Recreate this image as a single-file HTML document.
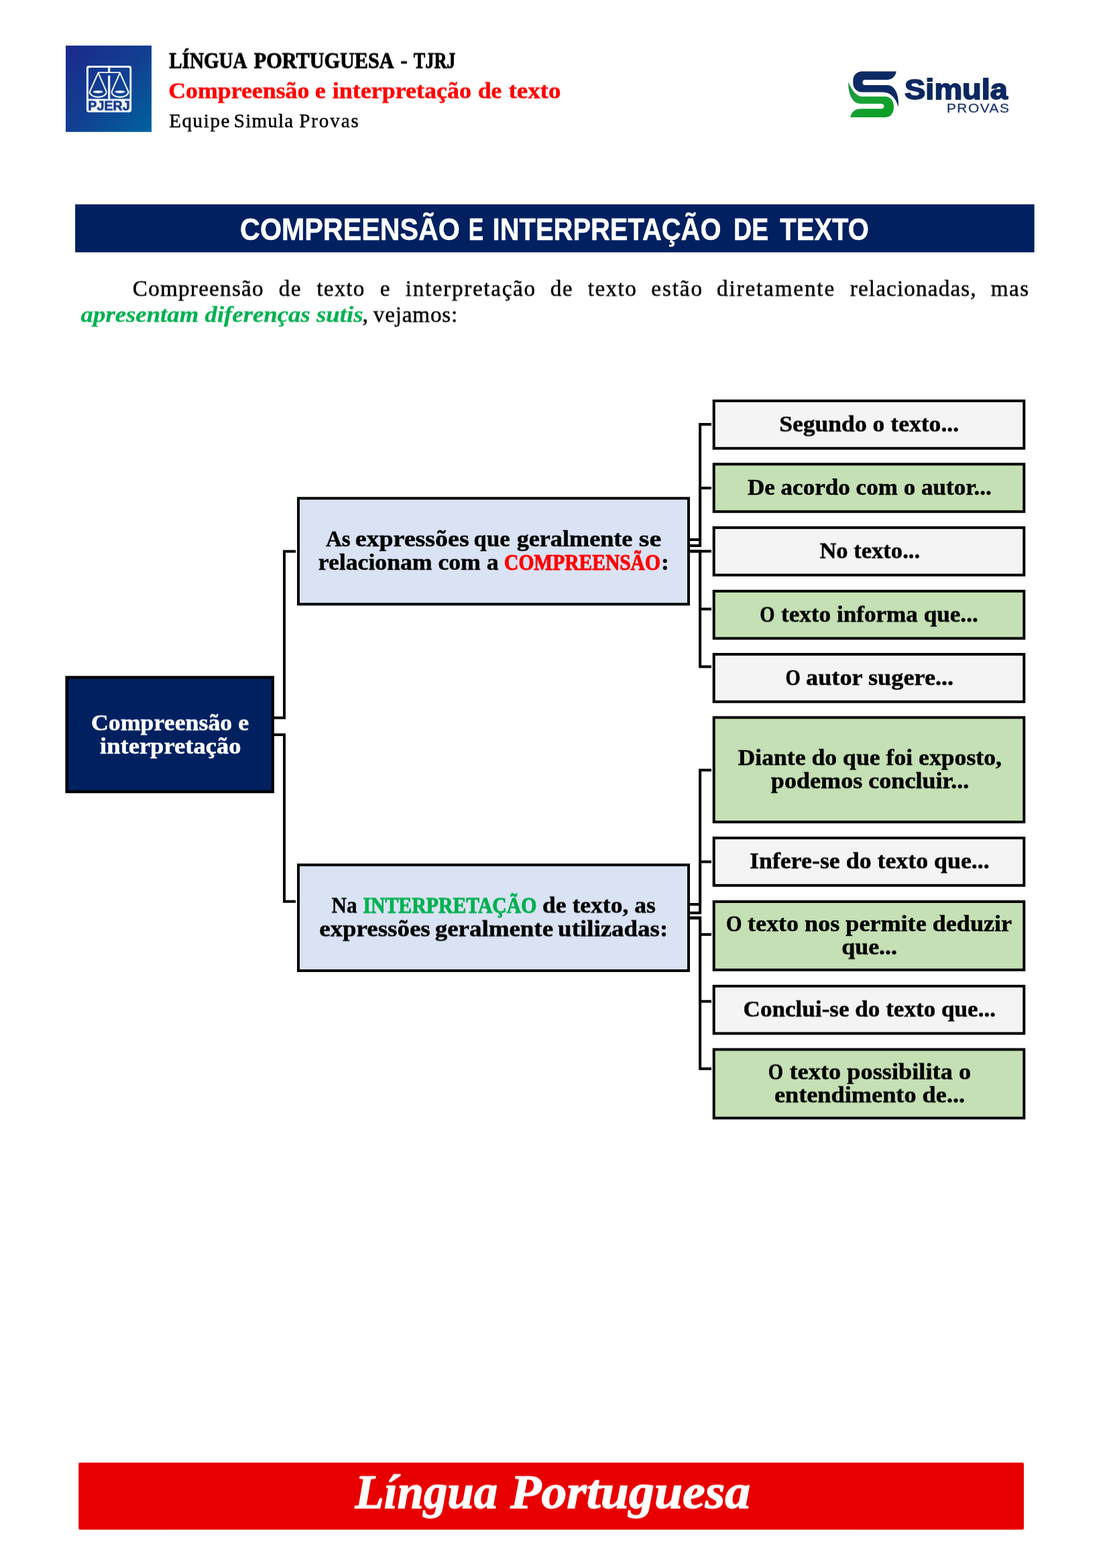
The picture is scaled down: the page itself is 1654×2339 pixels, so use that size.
<!DOCTYPE html>
<html lang="pt-BR">
<head>
<meta charset="utf-8">
<title>Compreensão e interpretação de texto</title>
<style>
html,body{margin:0;padding:0;background:#fff;}
body{width:1654px;height:2339px;overflow:hidden;position:relative;}
svg{display:block;position:absolute;left:0;top:0;will-change:transform;}
svg.t{overflow:visible;}
text{white-space:pre;}
</style>
</head>
<body>
<svg width="1654" height="2339" viewBox="0 0 1654 2339">
<defs><linearGradient id="pj" x1="0" y1="0" x2="1" y2="1"><stop offset="0" stop-color="#1b2a8c"/><stop offset="0.5" stop-color="#123f91"/><stop offset="1" stop-color="#00629f"/></linearGradient><linearGradient id="sg" x1="0" y1="0" x2="0.6" y2="1"><stop offset="0" stop-color="#1a9140"/><stop offset="0.5" stop-color="#18a238"/><stop offset="1" stop-color="#0c9f24"/></linearGradient></defs>
<rect x="98" y="68" width="128" height="128.8" fill="url(#pj)"/>
<path fill="#f2f6fc" fill-rule="evenodd" d="M132.5,98 H192.6 Q196.2,98 196.2,101.6 V163.8 Q196.2,167.4 192.6,167.4 H132.5 Q128.9,167.4 128.9,163.8 V101.6 Q128.9,98 132.5,98 Z M133.9,100.9 Q131.9,100.9 131.9,102.9 V147.5 H193.4 V102.9 Q193.4,100.9 191.4,100.9 Z"/>
<rect x="161.1" y="100" width="3.2" height="9" fill="#f2f6fc"/>
<g fill="none" stroke="#f2f6fc" stroke-width="2.1" stroke-linejoin="round"><path d="M146.5,108.1 H178.9" stroke-width="1.8"/><path d="M146.5,108.6 L133.7,137.1 A12.6,7.8 0 0 0 158.9,137.1 Z"/><path d="M178.9,108.6 L166.4,137.1 A12.6,7.8 0 0 0 191.6,137.1 Z"/></g>
<rect x="159.75" y="109.2" width="5.9" height="38.3" fill="#15399a"/>
<rect x="161.1" y="112.6" width="3.2" height="35.5" fill="#f2f6fc"/>
<ellipse cx="146.1" cy="136.9" rx="7.5" ry="2.0" fill="#f2f6fc"/>
<ellipse cx="178.9" cy="136.9" rx="7.5" ry="2.0" fill="#f2f6fc"/>
<path fill="#0c2a63" d="M 1336.8,106.6 L 1285.7,106.6 C 1278.3,106.6 1272.3,112.4 1272.3,119.9 L 1272.3,124.2 C 1272.3,131.9 1278.3,137.5 1285.7,137.5 L 1316.5,137.5 C 1328.1,137.5 1336.5,146.5 1339.8,159.8 C 1341.1,144.9 1336.5,127.1 1323.2,127.1 L 1290.7,127.1 C 1287.9,127.1 1286.4,125.2 1286.4,122.9 C 1286.4,120.8 1287.9,119.1 1290.7,119.1 L 1322.7,119.1 C 1330.6,119.1 1335.6,114.1 1336.8,106.6 Z"/>
<path fill="url(#sg)" d="M 1265.5,122.1 C 1266.5,125.2 1267.3,127.2 1268.6,129.5 C 1271.3,134.6 1277.4,143.9 1285.7,143.9 L 1319.8,143.9 C 1328.1,143.9 1333.0,149.9 1333.0,159.5 C 1333.0,169.0 1328.1,175.1 1319.8,175.1 L 1268.3,175.1 C 1269.1,168.1 1274.9,162.2 1283.3,162.2 L 1314.0,162.2 C 1317.0,162.2 1318.5,160.5 1318.5,158.4 C 1318.5,156.3 1317.0,154.7 1314.0,154.7 L 1283.3,154.7 C 1271.6,154.7 1264.1,139.9 1265.5,122.1 Z"/>
<rect x="112.1" y="304.8" width="1430.6" height="71.6" fill="#002060"/>
<rect x="99.60" y="1010.50" width="307.20" height="170.50" fill="#002060" stroke="#000" stroke-width="4.4"/>
<rect x="445.00" y="743.30" width="582.00" height="158.00" fill="#dae3f3" stroke="#000" stroke-width="4.0"/>
<rect x="445.00" y="1290.20" width="582.00" height="157.80" fill="#dae3f3" stroke="#000" stroke-width="4.0"/>
<rect x="1064.70" y="598.00" width="462.60" height="70.80" fill="#f4f4f4" stroke="#000" stroke-width="4.0"/>
<rect x="1064.70" y="692.40" width="462.60" height="70.80" fill="#c5e0b4" stroke="#000" stroke-width="4.0"/>
<rect x="1064.70" y="787.10" width="462.60" height="70.70" fill="#f4f4f4" stroke="#000" stroke-width="4.0"/>
<rect x="1064.70" y="881.80" width="462.60" height="70.50" fill="#c5e0b4" stroke="#000" stroke-width="4.0"/>
<rect x="1064.70" y="976.00" width="462.60" height="70.80" fill="#f4f4f4" stroke="#000" stroke-width="4.0"/>
<rect x="1064.70" y="1070.30" width="462.60" height="155.90" fill="#c5e0b4" stroke="#000" stroke-width="4.0"/>
<rect x="1064.70" y="1250.00" width="462.60" height="70.80" fill="#f4f4f4" stroke="#000" stroke-width="4.0"/>
<rect x="1064.70" y="1345.00" width="462.60" height="101.80" fill="#c5e0b4" stroke="#000" stroke-width="4.0"/>
<rect x="1064.70" y="1471.00" width="462.60" height="70.60" fill="#f4f4f4" stroke="#000" stroke-width="4.0"/>
<rect x="1064.70" y="1565.50" width="462.60" height="102.30" fill="#c5e0b4" stroke="#000" stroke-width="4.0"/>
<g fill="none" stroke="#000" stroke-width="4" stroke-linejoin="miter"><path d="M409,1070.8 H424 V822.5 H441"/><path d="M409,1096 H424 V1344.8 H441"/><path d="M1029,814 H1044.1 V633 H1061"/><path d="M1029,805.1 H1044.1 V728 H1061"/><path d="M1029,822.3 H1061"/><path d="M1029,822.3 H1044.1 V908.5 H1061"/><path d="M1029,822.3 H1044.1 V994.5 H1061"/><path d="M1029,1361.8 H1044.1 V1148.7 H1061"/><path d="M1029,1349.1 H1044.1 V1285.6 H1061"/><path d="M1029,1369.3 H1044.1 V1393.9 H1061"/><path d="M1029,1369.3 H1044.1 V1493.7 H1061"/><path d="M1029,1369.3 H1044.1 V1594.2 H1061"/></g>
<rect x="117.2" y="2181.7" width="1409.8" height="100" rx="2" fill="#e80000"/>
</svg>
<svg class="t" width="149" height="130" style="left:240px;top:11px;transform:translateY(0.50px) rotate(0.0001deg)"><text transform="translate(12.20,90.00) scale(0.8581,1)" font-family='"Liberation Serif", serif' font-size="33.90" font-weight="700" fill="#000" stroke="#000" stroke-width="0.9" stroke-linejoin="round">LÍNGUA</text></svg>
<svg class="t" width="242" height="130" style="left:366px;top:11px;transform:translateY(0.50px) rotate(0.0001deg)"><text transform="translate(12.80,90.00) scale(0.8920,1)" font-family='"Liberation Serif", serif' font-size="33.90" font-weight="700" fill="#000" stroke="#000" stroke-width="0.9" stroke-linejoin="round">PORTUGUESA</text></svg>
<svg class="t" width="41" height="130" style="left:585px;top:11px;transform:translateY(0.50px) rotate(0.0001deg)"><text transform="translate(12.57,90.00) scale(0.9000,1)" font-family='"Liberation Serif", serif' font-size="33.90" font-weight="700" fill="#000" stroke="#000" stroke-width="0.9" stroke-linejoin="round">-</text></svg>
<svg class="t" width="95" height="130" style="left:604px;top:11px;transform:translateY(0.50px) rotate(0.0001deg)"><text transform="translate(12.80,90.00) scale(0.7743,1)" font-family='"Liberation Serif", serif' font-size="33.90" font-weight="700" fill="#000" stroke="#000" stroke-width="0.9" stroke-linejoin="round">TJRJ</text></svg>
<svg class="t" width="241" height="130" style="left:239px;top:56px;transform:translateY(0.50px) rotate(0.0001deg)"><text transform="translate(12.20,90.00) scale(1.0569,1)" font-family='"Liberation Serif", serif' font-size="33.90" font-weight="700" fill="#ff0000" stroke="#ff0000" stroke-width="0.5" stroke-linejoin="round">Compreensão</text></svg>
<svg class="t" width="47" height="130" style="left:457px;top:56px;transform:translateY(0.50px) rotate(0.0001deg)"><text transform="translate(12.82,90.00) scale(1.0600,1)" font-family='"Liberation Serif", serif' font-size="33.90" font-weight="700" fill="#ff0000" stroke="#ff0000" stroke-width="0.5" stroke-linejoin="round">e</text></svg>
<svg class="t" width="239" height="130" style="left:483px;top:56px;transform:translateY(0.50px) rotate(0.0001deg)"><text transform="translate(12.70,90.00) scale(1.0618,1)" font-family='"Liberation Serif", serif' font-size="33.90" font-weight="700" fill="#ff0000" stroke="#ff0000" stroke-width="0.5" stroke-linejoin="round">interpretação</text></svg>
<svg class="t" width="66" height="130" style="left:701px;top:56px;transform:translateY(0.50px) rotate(0.0001deg)"><text transform="translate(12.00,90.00) scale(1.0410,1)" font-family='"Liberation Serif", serif' font-size="33.90" font-weight="700" fill="#ff0000" stroke="#ff0000" stroke-width="0.5" stroke-linejoin="round">de</text></svg>
<svg class="t" width="109" height="130" style="left:746px;top:56px;transform:translateY(0.50px) rotate(0.0001deg)"><text transform="translate(12.40,90.00) scale(1.0910,1)" font-family='"Liberation Serif", serif' font-size="33.90" font-weight="700" fill="#ff0000" stroke="#ff0000" stroke-width="0.5" stroke-linejoin="round">texto</text></svg>
<svg class="t" width="122" height="130" style="left:240px;top:99px;transform:translateY(0.90px) rotate(0.0001deg)"><text transform="translate(12.18,90.00) scale(0.9800,1)" font-family='"Liberation Serif", serif' font-size="29.70" font-weight="400" fill="#000" stroke="#000" stroke-width="0.5" stroke-linejoin="round" letter-spacing="1.596">Equipe</text></svg>
<svg class="t" width="119" height="130" style="left:336px;top:99px;transform:translateY(0.90px) rotate(0.0001deg)"><text transform="translate(12.77,90.00) scale(0.9800,1)" font-family='"Liberation Serif", serif' font-size="29.70" font-weight="400" fill="#000" stroke="#000" stroke-width="0.5" stroke-linejoin="round" letter-spacing="1.200">Simula</text></svg>
<svg class="t" width="119" height="130" style="left:434px;top:99px;transform:translateY(0.90px) rotate(0.0001deg)"><text transform="translate(12.28,90.00) scale(0.9800,1)" font-family='"Liberation Serif", serif' font-size="29.70" font-weight="400" fill="#000" stroke="#000" stroke-width="0.5" stroke-linejoin="round" letter-spacing="1.898">Provas</text></svg>
<svg class="t" width="358" height="130" style="left:346px;top:268px;transform:translateY(0.00px) rotate(0.0001deg)"><text transform="translate(12.10,90.00) scale(0.9070,1)" font-family='"Liberation Sans", sans-serif' font-size="45.50" font-weight="700" fill="#fff" stroke="#fff" stroke-width="0.5" stroke-linejoin="round">COMPREENSÃO</text></svg>
<svg class="t" width="52" height="130" style="left:686px;top:268px;transform:translateY(0.00px) rotate(0.0001deg)"><text transform="translate(12.80,90.00) scale(0.7402,1)" font-family='"Liberation Sans", sans-serif' font-size="45.50" font-weight="700" fill="#fff" stroke="#fff" stroke-width="0.5" stroke-linejoin="round">E</text></svg>
<svg class="t" width="370" height="130" style="left:722px;top:268px;transform:translateY(0.00px) rotate(0.0001deg)"><text transform="translate(12.60,90.00) scale(0.8779,1)" font-family='"Liberation Sans", sans-serif' font-size="45.50" font-weight="700" fill="#fff" stroke="#fff" stroke-width="0.5" stroke-linejoin="round">INTERPRETAÇÃO</text></svg>
<svg class="t" width="81" height="130" style="left:1082px;top:268px;transform:translateY(0.00px) rotate(0.0001deg)"><text transform="translate(12.10,90.00) scale(0.8242,1)" font-family='"Liberation Sans", sans-serif' font-size="45.50" font-weight="700" fill="#fff" stroke="#fff" stroke-width="0.5" stroke-linejoin="round">DE</text></svg>
<svg class="t" width="164" height="130" style="left:1151px;top:268px;transform:translateY(0.00px) rotate(0.0001deg)"><text transform="translate(12.30,90.00) scale(0.8793,1)" font-family='"Liberation Sans", sans-serif' font-size="45.50" font-weight="700" fill="#fff" stroke="#fff" stroke-width="0.5" stroke-linejoin="round">TEXTO</text></svg>
<svg class="t" width="226" height="130" style="left:185px;top:351px;transform:translateY(0.50px) rotate(0.0001deg)"><text transform="translate(12.80,90.00) scale(0.9800,1)" font-family='"Liberation Serif", serif' font-size="33.90" font-weight="400" fill="#000" stroke="#000" stroke-width="0.5" stroke-linejoin="round" letter-spacing="1.245">Compreensão</text></svg>
<svg class="t" width="65" height="130" style="left:403px;top:351px;transform:translateY(0.50px) rotate(0.0001deg)"><text transform="translate(12.71,90.00) scale(0.9800,1)" font-family='"Liberation Serif", serif' font-size="33.90" font-weight="400" fill="#000" stroke="#000" stroke-width="0.5" stroke-linejoin="round" letter-spacing="1.400">de</text></svg>
<svg class="t" width="102" height="130" style="left:460px;top:351px;transform:translateY(0.50px) rotate(0.0001deg)"><text transform="translate(12.40,90.00) scale(0.9800,1)" font-family='"Liberation Serif", serif' font-size="33.90" font-weight="400" fill="#000" stroke="#000" stroke-width="0.5" stroke-linejoin="round" letter-spacing="1.155">texto</text></svg>
<svg class="t" width="47" height="130" style="left:554px;top:351px;transform:translateY(0.50px) rotate(0.0001deg)"><text transform="translate(12.85,90.00) scale(0.9800,1)" font-family='"Liberation Serif", serif' font-size="33.90" font-weight="400" fill="#000" stroke="#000" stroke-width="0.5" stroke-linejoin="round" letter-spacing="1.400">e</text></svg>
<svg class="t" width="225" height="130" style="left:592px;top:351px;transform:translateY(0.50px) rotate(0.0001deg)"><text transform="translate(12.80,90.00) scale(0.9800,1)" font-family='"Liberation Serif", serif' font-size="33.90" font-weight="400" fill="#000" stroke="#000" stroke-width="0.5" stroke-linejoin="round" letter-spacing="1.695">interpretação</text></svg>
<svg class="t" width="65" height="130" style="left:808px;top:351px;transform:translateY(0.50px) rotate(0.0001deg)"><text transform="translate(12.81,90.00) scale(0.9800,1)" font-family='"Liberation Serif", serif' font-size="33.90" font-weight="400" fill="#000" stroke="#000" stroke-width="0.5" stroke-linejoin="round" letter-spacing="1.400">de</text></svg>
<svg class="t" width="103" height="130" style="left:864px;top:351px;transform:translateY(0.50px) rotate(0.0001deg)"><text transform="translate(12.80,90.00) scale(0.9800,1)" font-family='"Liberation Serif", serif' font-size="33.90" font-weight="400" fill="#000" stroke="#000" stroke-width="0.5" stroke-linejoin="round" letter-spacing="1.436">texto</text></svg>
<svg class="t" width="106" height="130" style="left:959px;top:351px;transform:translateY(0.50px) rotate(0.0001deg)"><text transform="translate(12.30,90.00) scale(0.9800,1)" font-family='"Liberation Serif", serif' font-size="33.90" font-weight="400" fill="#000" stroke="#000" stroke-width="0.5" stroke-linejoin="round" letter-spacing="1.921">estão</text></svg>
<svg class="t" width="206" height="130" style="left:1057px;top:351px;transform:translateY(0.50px) rotate(0.0001deg)"><text transform="translate(12.12,90.00) scale(0.9800,1)" font-family='"Liberation Serif", serif' font-size="33.90" font-weight="400" fill="#000" stroke="#000" stroke-width="0.5" stroke-linejoin="round" letter-spacing="1.865">diretamente</text></svg>
<svg class="t" width="219" height="130" style="left:1255px;top:351px;transform:translateY(0.50px) rotate(0.0001deg)"><text transform="translate(12.70,90.00) scale(0.9800,1)" font-family='"Liberation Serif", serif' font-size="33.90" font-weight="400" fill="#000" stroke="#000" stroke-width="0.5" stroke-linejoin="round" letter-spacing="1.167">relacionadas,</text></svg>
<svg class="t" width="89" height="130" style="left:1465px;top:351px;transform:translateY(0.50px) rotate(0.0001deg)"><text transform="translate(12.85,90.00) scale(0.9800,1)" font-family='"Liberation Serif", serif' font-size="33.90" font-weight="400" fill="#000" stroke="#000" stroke-width="0.5" stroke-linejoin="round" letter-spacing="1.400">mas</text></svg>
<svg class="t" width="452" height="130" style="left:108px;top:390px;transform:translateY(0.40px) rotate(0.0001deg)"><text transform="translate(12.60,90.00) scale(1.0853,1)" font-family='"Liberation Serif", serif' font-size="33.90" font-weight="700" font-style="italic" fill="#00b050" stroke="#00b050" stroke-width="0.25" stroke-linejoin="round">apresentam diferenças sutis</text></svg>
<svg class="t" width="38" height="130" style="left:528px;top:390px;transform:translateY(0.40px) rotate(0.0001deg)"><text transform="translate(12.50,90.00)" font-family='"Liberation Serif", serif' font-size="33.90" font-weight="400" fill="#000" stroke="#000" stroke-width="0.5" stroke-linejoin="round">,</text></svg>
<svg class="t" width="156" height="130" style="left:544px;top:390px;transform:translateY(0.40px) rotate(0.0001deg)"><text transform="translate(12.84,90.00) scale(0.9800,1)" font-family='"Liberation Serif", serif' font-size="33.90" font-weight="400" fill="#000" stroke="#000" stroke-width="0.5" stroke-linejoin="round" letter-spacing="0.796">vejamos:</text></svg>
<svg class="t" width="266" height="130" style="left:123px;top:999px;transform:translateY(0.30px) rotate(0.0001deg)"><text transform="translate(12.90,90.00) scale(1.0575,1)" font-family='"Liberation Serif", serif' font-size="33.90" font-weight="700" fill="#fff" stroke="#fff" stroke-width="0.5" stroke-linejoin="round">Compreensão e</text></svg>
<svg class="t" width="242" height="130" style="left:137px;top:1034px;transform:translateY(0.10px) rotate(0.0001deg)"><text transform="translate(12.00,90.00) scale(1.0783,1)" font-family='"Liberation Serif", serif' font-size="33.90" font-weight="700" fill="#fff" stroke="#fff" stroke-width="0.5" stroke-linejoin="round">interpretação</text></svg>
<svg class="t" width="69" height="130" style="left:473px;top:724px;transform:translateY(0.90px) rotate(0.0001deg)"><text transform="translate(12.90,90.00) scale(0.9770,1)" font-family='"Liberation Serif", serif' font-size="33.90" font-weight="700" fill="#000" stroke="#000" stroke-width="0.5" stroke-linejoin="round">As</text></svg>
<svg class="t" width="201" height="130" style="left:517px;top:724px;transform:translateY(0.90px) rotate(0.0001deg)"><text transform="translate(12.70,90.00) scale(1.1193,1)" font-family='"Liberation Serif", serif' font-size="33.90" font-weight="700" fill="#000" stroke="#000" stroke-width="0.5" stroke-linejoin="round">expressões</text></svg>
<svg class="t" width="85" height="130" style="left:694px;top:724px;transform:translateY(0.90px) rotate(0.0001deg)"><text transform="translate(12.60,90.00) scale(1.0238,1)" font-family='"Liberation Serif", serif' font-size="33.90" font-weight="700" fill="#000" stroke="#000" stroke-width="0.5" stroke-linejoin="round">que</text></svg>
<svg class="t" width="204" height="130" style="left:758px;top:724px;transform:translateY(0.90px) rotate(0.0001deg)"><text transform="translate(12.65,90.00) scale(1.0679,1)" font-family='"Liberation Serif", serif' font-size="33.90" font-weight="700" fill="#000" stroke="#000" stroke-width="0.5" stroke-linejoin="round">geralmente</text></svg>
<svg class="t" width="65" height="130" style="left:940px;top:724px;transform:translateY(0.90px) rotate(0.0001deg)"><text transform="translate(12.84,90.00) scale(1.1803,1)" font-family='"Liberation Serif", serif' font-size="33.90" font-weight="700" fill="#000" stroke="#000" stroke-width="0.5" stroke-linejoin="round">se</text></svg>
<svg class="t" width="300" height="130" style="left:462px;top:759px;transform:translateY(0.90px) rotate(0.0001deg)"><text transform="translate(12.84,90.00) scale(1.0523,1)" font-family='"Liberation Serif", serif' font-size="33.90" font-weight="700" fill="#000" stroke="#000" stroke-width="0.5" stroke-linejoin="round">relacionam com a</text></svg>
<svg class="t" width="263" height="130" style="left:740px;top:760px;transform:translateY(0.10px) rotate(0.0001deg)"><text transform="translate(12.10,90.00) scale(0.8708,1)" font-family='"Liberation Serif", serif' font-size="33.90" font-weight="700" fill="#ff0000" stroke="#ff0000" stroke-width="1.0" stroke-linejoin="round">COMPREENSÃO</text></svg>
<svg class="t" width="41" height="130" style="left:974px;top:759px;transform:translateY(0.90px) rotate(0.0001deg)"><text transform="translate(12.04,90.00) scale(1.0600,1)" font-family='"Liberation Serif", serif' font-size="33.90" font-weight="700" fill="#000" stroke="#000" stroke-width="0.5" stroke-linejoin="round">:</text></svg>
<svg class="t" width="70" height="130" style="left:482px;top:1271px;transform:translateY(0.50px) rotate(0.0001deg)"><text transform="translate(12.50,90.00) scale(0.9200,1)" font-family='"Liberation Serif", serif' font-size="33.90" font-weight="700" fill="#000" stroke="#000" stroke-width="0.5" stroke-linejoin="round">Na</text></svg>
<svg class="t" width="290" height="130" style="left:529px;top:1271px;transform:translateY(0.70px) rotate(0.0001deg)"><text transform="translate(12.43,90.00) scale(0.8784,1)" font-family='"Liberation Serif", serif' font-size="33.90" font-weight="700" fill="#00b050" stroke="#00b050" stroke-width="1.0" stroke-linejoin="round">INTERPRETAÇÃO</text></svg>
<svg class="t" width="200" height="130" style="left:797px;top:1271px;transform:translateY(0.50px) rotate(0.0001deg)"><text transform="translate(12.00,90.00) scale(1.0494,1)" font-family='"Liberation Serif", serif' font-size="33.90" font-weight="700" fill="#000" stroke="#000" stroke-width="0.5" stroke-linejoin="round">de texto, as</text></svg>
<svg class="t" width="549" height="130" style="left:464px;top:1306px;transform:translateY(0.60px) rotate(0.0001deg)"><text transform="translate(12.20,90.00) scale(1.0898,1)" font-family='"Liberation Serif", serif' font-size="33.90" font-weight="700" fill="#000" stroke="#000" stroke-width="0.5" stroke-linejoin="round" word-spacing="-2.00">expressões geralmente utilizadas:</text></svg>
<svg class="t" width="298" height="130" style="left:1150px;top:553px;transform:translateY(0.60px) rotate(0.0001deg)"><text transform="translate(12.15,90.00) scale(1.0502,1)" font-family='"Liberation Serif", serif' font-size="33.90" font-weight="700" fill="#000" stroke="#000" stroke-width="0.5" stroke-linejoin="round">Segundo o texto...</text></svg>
<svg class="t" width="396" height="130" style="left:1102px;top:648px;transform:translateY(0.00px) rotate(0.0001deg)"><text transform="translate(12.90,90.00) scale(1.0350,1)" font-family='"Liberation Serif", serif' font-size="33.90" font-weight="700" fill="#000" stroke="#000" stroke-width="0.5" stroke-linejoin="round">De acordo com o autor...</text></svg>
<svg class="t" width="181" height="130" style="left:1210px;top:742px;transform:translateY(0.60px) rotate(0.0001deg)"><text transform="translate(12.40,90.00) scale(1.0192,1)" font-family='"Liberation Serif", serif' font-size="33.90" font-weight="700" fill="#000" stroke="#000" stroke-width="0.5" stroke-linejoin="round">No texto...</text></svg>
<svg class="t" width="53" height="130" style="left:1121px;top:837px;transform:translateY(0.50px) rotate(0.0001deg)"><text transform="translate(12.30,90.00) scale(0.8458,1)" font-family='"Liberation Serif", serif' font-size="33.90" font-weight="700" fill="#000" stroke="#000" stroke-width="0.5" stroke-linejoin="round">O</text></svg>
<svg class="t" width="325" height="130" style="left:1153px;top:837px;transform:translateY(0.50px) rotate(0.0001deg)"><text transform="translate(12.00,90.00) scale(1.0369,1)" font-family='"Liberation Serif", serif' font-size="33.90" font-weight="700" fill="#000" stroke="#000" stroke-width="0.5" stroke-linejoin="round">texto informa que...</text></svg>
<svg class="t" width="53" height="130" style="left:1159px;top:931px;transform:translateY(0.80px) rotate(0.0001deg)"><text transform="translate(12.50,90.00) scale(0.8458,1)" font-family='"Liberation Serif", serif' font-size="33.90" font-weight="700" fill="#000" stroke="#000" stroke-width="0.5" stroke-linejoin="round">O</text></svg>
<svg class="t" width="251" height="130" style="left:1190px;top:931px;transform:translateY(0.80px) rotate(0.0001deg)"><text transform="translate(12.07,90.00) scale(1.0694,1)" font-family='"Liberation Serif", serif' font-size="33.90" font-weight="700" fill="#000" stroke="#000" stroke-width="0.5" stroke-linejoin="round">autor sugere...</text></svg>
<svg class="t" width="425" height="130" style="left:1088px;top:1051px;transform:translateY(0.20px) rotate(0.0001deg)"><text transform="translate(12.50,90.00) scale(1.0525,1)" font-family='"Liberation Serif", serif' font-size="33.90" font-weight="700" fill="#000" stroke="#000" stroke-width="0.5" stroke-linejoin="round">Diante do que foi exposto,</text></svg>
<svg class="t" width="327" height="130" style="left:1137px;top:1085px;transform:translateY(0.80px) rotate(0.0001deg)"><text transform="translate(12.80,90.00) scale(1.0656,1)" font-family='"Liberation Serif", serif' font-size="33.90" font-weight="700" fill="#000" stroke="#000" stroke-width="0.5" stroke-linejoin="round">podemos concluir...</text></svg>
<svg class="t" width="388" height="130" style="left:1106px;top:1205px;transform:translateY(0.30px) rotate(0.0001deg)"><text transform="translate(12.06,90.00) scale(1.0577,1)" font-family='"Liberation Serif", serif' font-size="33.90" font-weight="700" fill="#000" stroke="#000" stroke-width="0.5" stroke-linejoin="round">Infere-se do texto que...</text></svg>
<svg class="t" width="54" height="130" style="left:1070px;top:1299px;transform:translateY(0.00px) rotate(0.0001deg)"><text transform="translate(12.90,90.00) scale(0.8917,1)" font-family='"Liberation Serif", serif' font-size="33.90" font-weight="700" fill="#000" stroke="#000" stroke-width="0.5" stroke-linejoin="round">O</text></svg>
<svg class="t" width="426" height="130" style="left:1102px;top:1299px;transform:translateY(0.00px) rotate(0.0001deg)"><text transform="translate(12.90,90.00) scale(1.0659,1)" font-family='"Liberation Serif", serif' font-size="33.90" font-weight="700" fill="#000" stroke="#000" stroke-width="0.5" stroke-linejoin="round">texto nos permite deduzir</text></svg>
<svg class="t" width="113" height="130" style="left:1243px;top:1333px;transform:translateY(0.50px) rotate(0.0001deg)"><text transform="translate(12.20,90.00) scale(1.0605,1)" font-family='"Liberation Serif", serif' font-size="33.90" font-weight="700" fill="#000" stroke="#000" stroke-width="0.5" stroke-linejoin="round">que...</text></svg>
<svg class="t" width="407" height="130" style="left:1096px;top:1426px;transform:translateY(0.40px) rotate(0.0001deg)"><text transform="translate(12.60,90.00) scale(1.0358,1)" font-family='"Liberation Serif", serif' font-size="33.90" font-weight="700" fill="#000" stroke="#000" stroke-width="0.5" stroke-linejoin="round">Conclui-se do texto que...</text></svg>
<svg class="t" width="53" height="130" style="left:1133px;top:1519px;transform:translateY(0.80px) rotate(0.0001deg)"><text transform="translate(12.80,90.00) scale(0.8458,1)" font-family='"Liberation Serif", serif' font-size="33.90" font-weight="700" fill="#000" stroke="#000" stroke-width="0.5" stroke-linejoin="round">O</text></svg>
<svg class="t" width="302" height="130" style="left:1165px;top:1519px;transform:translateY(0.80px) rotate(0.0001deg)"><text transform="translate(12.50,90.00) scale(1.0725,1)" font-family='"Liberation Serif", serif' font-size="33.90" font-weight="700" fill="#000" stroke="#000" stroke-width="0.5" stroke-linejoin="round">texto possibilita o</text></svg>
<svg class="t" width="314" height="130" style="left:1142px;top:1554px;transform:translateY(0.40px) rotate(0.0001deg)"><text transform="translate(12.90,90.00) scale(1.0706,1)" font-family='"Liberation Serif", serif' font-size="33.90" font-weight="700" fill="#000" stroke="#000" stroke-width="0.5" stroke-linejoin="round">entendimento de...</text></svg>
<svg class="t" width="245" height="130" style="left:517px;top:2159px;transform:translateY(0.60px) rotate(0.0001deg)"><text transform="translate(12.48,90.00) scale(0.9848,1)" font-family='"Liberation Serif", serif' font-size="71.99" font-weight="700" font-style="italic" fill="#fff" stroke="#fff" stroke-width="1.3" stroke-linejoin="round">Língua</text></svg>
<svg class="t" width="390" height="130" style="left:749px;top:2159px;transform:translateY(0.60px) rotate(0.0001deg)"><text transform="translate(12.10,90.00) scale(1.0529,1)" font-family='"Liberation Serif", serif' font-size="71.99" font-weight="700" font-style="italic" fill="#fff" stroke="#fff" stroke-width="1.3" stroke-linejoin="round">Portuguesa</text></svg>
<svg class="t" width="187" height="130" style="left:1337px;top:57px;transform:translateY(0.90px) rotate(0.0001deg)"><text transform="translate(12.09,90.00) scale(1.0957,1)" font-family='"Liberation Sans", sans-serif' font-size="42.80" font-weight="700" fill="#0b2861" stroke="#0b2861" stroke-width="1.8" stroke-linejoin="round">Simula</text></svg>
<svg class="t" width="124" height="130" style="left:1399px;top:77px;transform:translateY(0.80px) rotate(0.0001deg)"><text transform="translate(12.90,90.00) scale(1.1000,1)" font-family='"Liberation Sans", sans-serif' font-size="19.00" font-weight="400" fill="#1b3266" stroke="#1b3266" stroke-width="0.3" stroke-linejoin="round" letter-spacing="1.364">PROVAS</text></svg>
<svg class="t" width="93" height="130" style="left:119px;top:74px;transform:translateY(0.60px) rotate(0.0001deg)"><text transform="translate(12.30,90.00) scale(1.0063,1)" font-family='"Liberation Sans", sans-serif' font-size="19.60" font-weight="700" fill="#12398f" stroke="#12398f" stroke-width="0.6" stroke-linejoin="round">PJERJ</text></svg>
</body>
</html>
